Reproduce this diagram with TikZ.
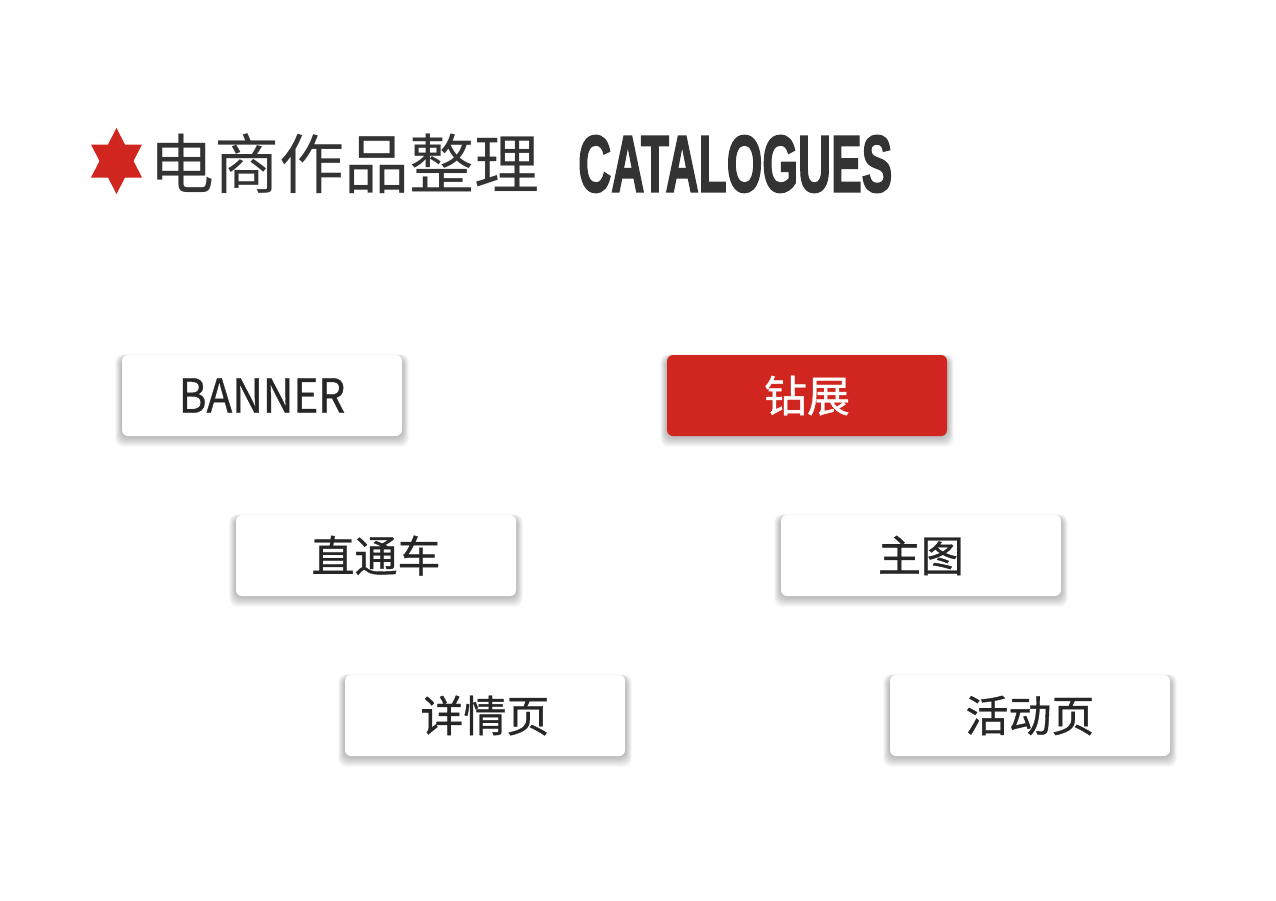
\documentclass[tikz,border=0pt]{standalone}
\usepackage{fontspec}
\setmainfont{Liberation Sans}
\newfontfamily\cjk{Noto Sans CJK SC}
\newfontfamily\cjkb[FakeBold=0.8]{Noto Sans CJK SC}
\newfontfamily\catfont[FakeBold=2.5]{Liberation Sans Bold}
\usetikzlibrary{backgrounds}
\definecolor{cred}{HTML}{D0261F}
\definecolor{ctext}{HTML}{262626}
\definecolor{ctitle}{HTML}{333333}
\tikzset{
  card/.style={rounded corners=6pt, minimum width=280pt, minimum height=81pt, inner sep=0pt,
    font=\cjkb\fontsize{43}{46}\selectfont, text=ctext},
  whitecard/.style={card, fill=white},
  redcard/.style={card, fill=cred, text=white},
  shadowlayer/.style={fill=black, fill opacity=0.022, rounded corners=8pt},
}
\begin{document}
\begin{tikzpicture}[x=1pt,y=-1pt]
\useasboundingbox (0,0) rectangle (1276,900);
% star
\fill[cred] (116.5,128) -- (91,177.5) -- (142,177.5) -- cycle;
\fill[cred] (116.5,194) -- (91,144.5) -- (142,144.5) -- cycle;
\node[anchor=west, inner sep=0pt, text=ctitle, font=\cjk\fontsize{65}{70}\selectfont] (title) at (149,164) {电商作品整理};
\node[anchor=west, inner sep=0pt, text=ctitle] (cat) at (578,164) {\resizebox{314pt}{56pt}{\catfont CATALOGUES}};
% cards
\node[whitecard] (banner) at (262,395.5) {\scalebox{0.9}[1]{\fontsize{47}{50}\selectfont BANNER}};
\node[redcard] (zz) at (807,395.5) {钻展};
\node[whitecard] (ztc) at (376,555.5) {直通车};
\node[whitecard] (zt) at (921,555.5) {主图};
\node[whitecard] (xqy) at (485,715.5) {详情页};
\node[whitecard] (hdy) at (1030,715.5) {活动页};
\begin{scope}[on background layer]
\fill[white] (0,0) rectangle (1276,900);
\foreach \n in {banner,zz,ztc,zt,xqy,hdy}{
  \foreach \i in {1,...,12}{
    \fill[shadowlayer] ([xshift={-0.55*\i*1pt}, yshift={-(0.9*\i)*1pt}]\n.south west) rectangle ([xshift={0.55*\i*1pt}, yshift={(-3+0.3*\i)*1pt}]\n.north east);
  }
}
\end{scope}
\end{tikzpicture}
\end{document}
